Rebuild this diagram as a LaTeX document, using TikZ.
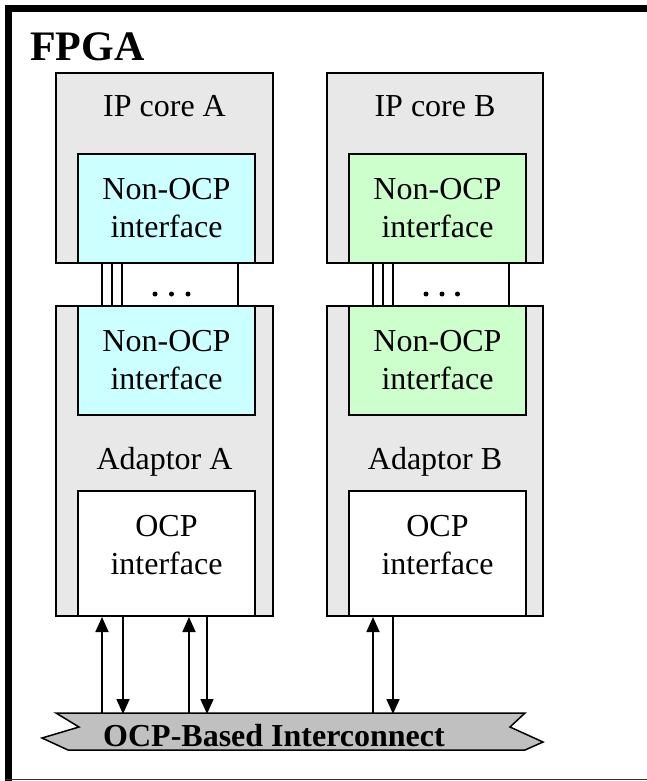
\documentclass[tikz,border=0pt]{standalone}
\usepackage{fontspec}
\setmainfont{Liberation Serif}
\usetikzlibrary{arrows.meta,calc}
\definecolor{boxgray}{HTML}{E8E8E8}
\definecolor{ifcyan}{HTML}{CCFFFF}
\definecolor{ifgreen}{HTML}{CCFFCC}
\definecolor{busgray}{HTML}{C0C0C0}
\tikzset{
  core/.style={draw=black, fill=boxgray, line width=2pt, inner sep=0pt},
  ifbox/.style={draw=black, line width=2pt, inner sep=0pt, align=center, font=\fontsize{32}{38}\selectfont},
  lbl/.style={font=\fontsize{32}{38}\selectfont, inner sep=0pt, anchor=base},
  wire/.style={line width=1.5pt},
  dotmark/.style={circle, fill=black, inner sep=0pt, minimum size=5pt},
  arr/.style={line width=1.7pt, -{Triangle[length=15pt,width=13pt]}},
  busshape/.style={draw=black, fill=busgray, line width=1.5pt, line join=miter},
  framethick/.style={line width=7pt},
}
\begin{document}
\begin{tikzpicture}[x=1pt,y=-1pt]
\useasboundingbox (0,0) rectangle (647,781);
% outer frame (cropped on the right and bottom)
\draw[framethick] (5,8.5) -- (647,8.5);
\draw[framethick] (8.5,5) -- (8.5,781);
\draw[line width=1.5pt, black!80] (5,779.5) -- (647,779.5);
\node[font=\fontsize{42}{48}\selectfont\bfseries, inner sep=0pt, anchor=base west] (fpga) at (30,61) {FPGA};

% IP cores
\node[core, minimum width=217pt, minimum height=190pt] (ipA) at (164.5,168) {};
\node[core, minimum width=216pt, minimum height=190pt] (ipB) at (435,168) {};
\node[lbl] (ipAt) at (164.5,117) {IP core A};
\node[lbl] (ipBt) at (435,117) {IP core B};
\node[ifbox, fill=ifcyan, minimum width=177pt, minimum height=109pt] (ifA1) at (166.5,208.5) {Non-OCP\\interface};
\node[ifbox, fill=ifgreen, minimum width=177pt, minimum height=109pt] (ifB1) at (437.5,208.5) {Non-OCP\\interface};

% Adaptors
\node[core, minimum width=217pt, minimum height=310pt] (adA) at (164.5,461) {};
\node[core, minimum width=216pt, minimum height=310pt] (adB) at (435,461) {};
\node[ifbox, fill=ifcyan, minimum width=177pt, minimum height=109pt] (ifA2) at (166.5,360.5) {Non-OCP\\interface};
\node[ifbox, fill=ifgreen, minimum width=177pt, minimum height=109pt] (ifB2) at (437.5,360.5) {Non-OCP\\interface};
\node[lbl] (adAt) at (164.5,469) {Adaptor A};
\node[lbl] (adBt) at (435,469) {Adaptor B};
\node[ifbox, fill=white, minimum width=177pt, minimum height=125pt] (ocpA) at (166.5,553.5) {};
\node[ifbox, fill=white, minimum width=177pt, minimum height=125pt] (ocpB) at (437.5,553.5) {};
\node[ifbox, draw=none, fill=none] (ocpAt) at (166.5,545) {OCP\\interface};
\node[ifbox, draw=none, fill=none] (ocpBt) at (437.5,545) {OCP\\interface};

% wires between IP cores and adaptors
\foreach \s in {47,57,67,183}{
  \draw[wire] ([xshift=\s pt]ipA.south west) -- ([xshift=\s pt]adA.north west);
  \draw[wire] ([xshift=\s pt]ipB.south west) -- ([xshift=\s pt]adB.north west);
}
\node[dotmark] (dA1) at (155,294) {};
\node[dotmark] (dA2) at (171.5,294) {};
\node[dotmark] (dA3) at (188,294) {};
\node[dotmark] (dB1) at (426,294) {};
\node[dotmark] (dB2) at (442,294) {};
\node[dotmark] (dB3) at (457.5,294) {};

% interconnect
\draw[busshape] (56,713) -- (525,713) -- (510,727) -- (543,742) -- (525,750) -- (68,750) -- (42,738) -- (79,727) -- cycle;
\node[lbl, font=\fontsize{32}{38}\selectfont\bfseries] (bus) at (274,746) {OCP-Based Interconnect};

% arrows
\path (adA.south west) ++(47,0) coordinate (a1t) ++(0,97) coordinate (a1b);
\path (adA.south west) ++(68,0) coordinate (a2t) ++(0,97) coordinate (a2b);
\path (adA.south west) ++(134,0) coordinate (a3t) ++(0,97) coordinate (a3b);
\path (adA.south west) ++(152,0) coordinate (a4t) ++(0,97) coordinate (a4b);
\path (adB.south west) ++(47,0) coordinate (b1t) ++(0,97) coordinate (b1b);
\path (adB.south west) ++(67,0) coordinate (b2t) ++(0,97) coordinate (b2b);
\draw[arr] (a1b) -- (a1t);
\draw[arr] (a2t) -- (a2b);
\draw[arr] (a3b) -- (a3t);
\draw[arr] (a4t) -- (a4b);
\draw[arr] (b1b) -- (b1t);
\draw[arr] (b2t) -- (b2b);
\end{tikzpicture}
\end{document}
